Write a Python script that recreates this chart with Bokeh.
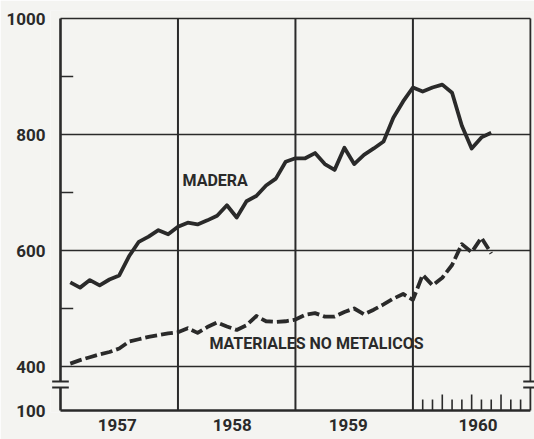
from bokeh.plotting import figure
from bokeh.models import Range1d, FixedTicker, Label
from bokeh.embed import file_html
from bokeh.resources import INLINE

# ---- data (monthly, Jan 1957 .. Aug 1960) ----
month_labels = [f"{y}-{m:02d}" for y in (1957, 1958, 1959, 1960) for m in range(1, 13)][:44]
madera = [545, 536, 549, 540, 550, 557, 590, 615, 624, 635, 628, 641,
          648, 645, 652, 660, 678, 657, 685, 694, 712, 724, 753, 759,
          759, 768, 749, 739, 777, 749, 765, 776, 788, 829, 857, 881,
          874, 881, 886, 872, 815, 776, 795, 803]
materiales = [405, 411, 416, 421, 425, 431, 443, 447, 451, 454, 457, 459,
              466, 458, 468, 476, 469, 463, 471, 487, 478, 477, 478, 481,
              489, 492, 486, 486, 494, 500, 490, 498, 507, 517, 525, 515,
              558, 540, 553, 575, 611, 597, 622, 595]
years = ["1957", "1958", "1959", "1960"]
y_ticks = [1000, 800, 600, 400]
y_minor = [900, 700, 500]
series_names = ["MADERA", "MATERIALES NO METALICOS"]

x_vals = [i + 1 for i in range(len(month_labels))]   # month-end positions

FONT = "Roboto"
INK = "#2a2a2a"
BG = "#f4f4f1"

Y_BASE = 324.1       # axis bottom (labelled "100", broken axis)
BRK_LO, BRK_HI = 363.8, 374.1
X_END = 48

p = figure(width=534, height=439,
           x_range=Range1d(-1.021, 48.42), y_range=Range1d(320.7, 1013.8),
           output_backend="svg", toolbar_location=None,
           min_border_left=50, min_border_right=0, min_border_top=10, min_border_bottom=27)
p.background_fill_color = BG
p.border_fill_color = BG
p.outline_line_color = None
p.grid.visible = False

# axes: labels only
yt = [Y_BASE] + y_ticks
p.yaxis.ticker = FixedTicker(ticks=yt)
p.yaxis.major_label_overrides = {Y_BASE: "100", **{t: str(t) for t in y_ticks}}
xt = [5.8, 17.55, 29.4, 42.65]
p.xaxis.ticker = FixedTicker(ticks=xt)
p.xaxis.major_label_overrides = dict(zip(xt, years))
for ax in (p.xaxis[0], p.yaxis[0]):
    ax.axis_line_color = None
    ax.major_tick_line_color = None
    ax.minor_tick_line_color = None
    ax.major_tick_in = 0
    ax.major_tick_out = 0
    ax.minor_tick_out = 0
    ax.major_label_text_font = FONT
    ax.major_label_text_font_style = "bold"
    ax.major_label_text_font_size = "17px"
    ax.major_label_text_color = INK
p.yaxis.major_label_standoff = 5
p.xaxis.major_label_standoff = 6

# frame / grid lines
p.segment(x0=[0] * 4, y0=y_ticks, x1=[X_END] * 4, y1=y_ticks,
          line_color=INK, line_width=1.6)
p.segment(x0=[12, 24, 36], y0=[Y_BASE] * 3, x1=[12, 24, 36], y1=[1000] * 3,
          line_color=INK, line_width=2)
# left axis and right border with break gap
p.segment(x0=[0, 0], y0=[Y_BASE, BRK_HI], x1=[0, 0], y1=[BRK_LO, 1000],
          line_color=INK, line_width=2.6)
p.segment(x0=[X_END] * 2, y0=[Y_BASE, BRK_HI], x1=[X_END] * 2, y1=[BRK_LO, 1000],
          line_color=INK, line_width=1.8)
# bottom line
p.segment(x0=[0], y0=[Y_BASE], x1=[X_END], y1=[Y_BASE], line_color=INK, line_width=2.6)
# break marks
p.segment(x0=[-0.85, -0.85, 47.27, 47.27], y0=[BRK_LO, BRK_HI, BRK_LO, BRK_HI],
          x1=[0.85, 0.85, 48.42, 48.42], y1=[BRK_LO, BRK_HI, BRK_LO, BRK_HI],
          line_color=INK, line_width=2)
# left minor ticks
p.segment(x0=[0] * 3, y0=y_minor, x1=[1.3] * 3, y1=y_minor, line_color=INK, line_width=1.6)
# 1960 month ticks
mt = list(range(37, 48))
mh = [Y_BASE + (16 if (m % 3 == 0) else 11) / 0.58 for m in mt]
p.segment(x0=mt, y0=[Y_BASE] * len(mt), x1=mt, y1=mh, line_color=INK, line_width=1.6)

# data
p.line(x_vals, madera, line_color=INK, line_width=3.8, line_join="round")
p.line(x_vals, materiales, line_color=INK, line_width=3.8, line_dash="12 4", line_join="round")

for name, x, y in ((series_names[0], 15.8, 720), (series_names[1], 26.15, 440)):
    p.add_layout(Label(x=x, y=y, text=name, text_align="center", text_baseline="middle",
                       text_font=FONT, text_font_style="bold", text_font_size="16px",
                       text_color=INK))

open("out.html", "w").write(file_html(p, INLINE))
